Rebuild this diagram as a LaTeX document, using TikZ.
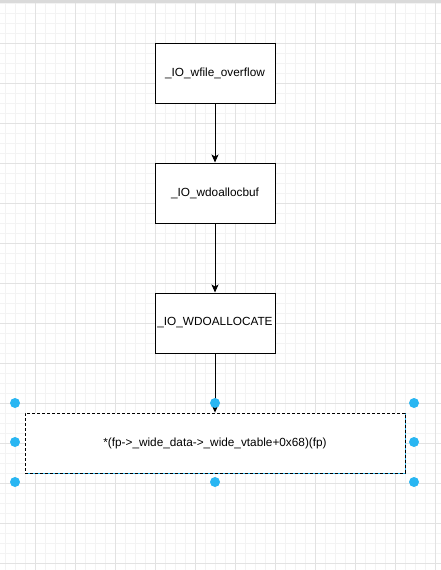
\documentclass[tikz,border=0pt]{standalone}
\usepackage{fontspec}
\setmainfont{Liberation Sans}
\usetikzlibrary{arrows.meta}
\definecolor{minorgrid}{HTML}{F3F3F3}
\definecolor{majorgrid}{HTML}{E2E2E2}
\definecolor{handle}{HTML}{29B6F2}
\definecolor{topbar}{HTML}{DADADA}
\tikzset{
  fnbox/.style={draw=black, line width=1pt, fill=white, minimum width=120pt, minimum height=60pt, inner sep=0pt, font=\fontsize{11.8}{14}\selectfont, text=black},
  selbox/.style={draw=black, line width=0.8pt, dash pattern=on 3pt off 2pt, fill=white, minimum width=380pt, minimum height=60pt, inner sep=0pt, font=\fontsize{11.8}{14}\selectfont, text=black},
  flow/.style={draw=black, line width=1pt, -{Stealth[length=8pt,width=7pt,inset=2pt]}},
  grip/.style={circle, fill=handle, draw=none, minimum size=10pt, inner sep=0pt}
}
\begin{document}
\begin{tikzpicture}[x=1pt,y=-1pt]
\useasboundingbox (0,0) rectangle (441,570);
\fill[white] (0,0) rectangle (441,570);
% minor grid
\foreach \gx in {5,15,...,435} \draw[minorgrid, line width=0.8pt] (\gx,3) -- (\gx,570);
\foreach \gy in {3,13,...,563} \draw[minorgrid, line width=0.8pt] (0,\gy) -- (441,\gy);
% major grid
\foreach \gx in {35,75,...,435} \draw[majorgrid, line width=1pt] (\gx,3) -- (\gx,570);
\foreach \gy in {43,83,...,563} \draw[majorgrid, line width=1pt] (0,\gy) -- (441,\gy);
\fill[topbar] (0,0) rectangle (441,3);
% nodes
\node[fnbox] (a) at (215,73) {\_IO\_wfile\_overflow};
\node[fnbox] (b) at (215,193) {\_IO\_wdoallocbuf};
\node[fnbox] (c) at (215,323) {\_IO\_WDOALLOCATE};
\draw[handle, line width=0.8pt] (25,413) rectangle (405,473);
\node[selbox] (d) at (215,443) {*(fp->\_wide\_data->\_wide\_vtable+0x68)(fp)};
% connectors
\draw[flow] (a) -- (b);
\draw[flow] (b) -- (c);
\draw[flow] (c) -- (d);
% selection handles
\foreach \hx/\hy [count=\i] in {15/403,215/403,414/403,15/442,414/442,15/482,215/482,414/482}
  \node[grip] (h\i) at (\hx,\hy) {};
\end{tikzpicture}
\end{document}
